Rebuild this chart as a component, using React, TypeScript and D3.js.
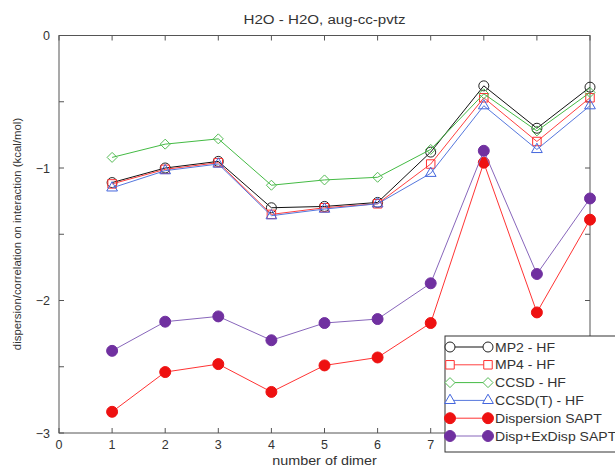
import React from "react";
import * as d3 from "d3";

const dimers = [1, 2, 3, 4, 5, 6, 7, 8, 9, 10];
const mp2 = [-1.11, -1.0, -0.95, -1.3, -1.29, -1.26, -0.88, -0.38, -0.7, -0.39];
const mp4 = [-1.12, -1.01, -0.96, -1.35, -1.3, -1.27, -0.97, -0.47, -0.8, -0.47];
const ccsd = [-0.92, -0.82, -0.78, -1.13, -1.09, -1.07, -0.86, -0.44, -0.72, -0.43];
const ccsdt = [-1.15, -1.02, -0.97, -1.36, -1.31, -1.27, -1.04, -0.53, -0.86, -0.53];
const dispSapt = [-2.84, -2.54, -2.48, -2.69, -2.49, -2.43, -2.17, -0.96, -2.09, -1.39];
const exDispSapt = [-2.38, -2.16, -2.12, -2.3, -2.17, -2.14, -1.87, -0.87, -1.8, -1.23];

const xTicks = [0, 1, 2, 3, 4, 5, 6, 7, 8, 9, 10];
const xLabels = [0, 1, 2, 3, 4, 5, 6, 7];
const yTicks = [0, -0.5, -1, -1.5, -2, -2.5, -3];
const yLabels = [0, -1, -2, -3];

type Series = { name: string; values: number[]; line: string; marker: string; shape: string; filled: boolean };

const series: Series[] = [
  { name: "MP2 - HF", values: mp2, line: "#111111", marker: "#222222", shape: "circle", filled: false },
  { name: "MP4 - HF", values: mp4, line: "#ff4040", marker: "#ff3030", shape: "square", filled: false },
  { name: "CCSD - HF", values: ccsd, line: "#44bb44", marker: "#55bb55", shape: "diamond", filled: false },
  { name: "CCSD(T) - HF", values: ccsdt, line: "#5577dd", marker: "#4466dd", shape: "triangle", filled: false },
  { name: "Dispersion SAPT", values: dispSapt, line: "#ff3333", marker: "#ee1111", shape: "dot", filled: true },
  { name: "Disp+ExDisp SAPT", values: exDispSapt, line: "#8866bb", marker: "#7030a0", shape: "dot", filled: true },
];

function markerPath(shape: string): string {
  if (shape === "circle") return d3.symbol(d3.symbolCircle, Math.PI * 25)()!;
  if (shape === "dot") return d3.symbol(d3.symbolCircle, Math.PI * 30)()!;
  if (shape === "square") return d3.symbol(d3.symbolSquare, 72)()!;
  if (shape === "triangle") return d3.symbol(d3.symbolTriangle, 50)()!;
  const r = 5;
  return `M0,${-r}L${r},0L0,${r}L${-r},0Z`;
}

const fmt = d3.format("d");

export default function App() {
  const W = 615, H = 471;
  const x = d3.scaleLinear().domain([0, 10]).range([59, 590]);
  const y = d3.scaleLinear().domain([0, -3]).range([35.5, 433]);
  const font = "Liberation Sans, Arial, Helvetica, sans-serif";
  const axisColor = "#555";
  const textColor = "#333";
  const lineGen = (vals: number[]) =>
    d3.line<number>().x((_, i) => x(dimers[i])).y((v) => y(v))(vals)!;

  const legendX = 445, legendY = 336, rowH = 17.8;

  return (
    <svg width={W} height={H} style={{ position: "absolute", left: 0, top: 0, background: "#fff" }} fontFamily={font}>
      <rect x={0} y={0} width={W} height={H} fill="#fff" />
      <g transform={`translate(${(x(0) + x(10)) / 2},24) scale(1.21,1)`}>
        <text textAnchor="middle" fontSize={12.5} fill={textColor}>H2O - H2O, aug-cc-pvtz</text>
      </g>

      {xTicks.map((t) => (
        <g key={"xt" + t}>
          <line x1={x(t)} x2={x(t)} y1={y(-3)} y2={y(-3) - 5} stroke={axisColor} />
          <line x1={x(t)} x2={x(t)} y1={y(0)} y2={y(0) + 5} stroke={axisColor} />
        </g>
      ))}
      {xLabels.map((t) => (
        <text key={"xl" + t} x={x(t)} y={y(-3) + 16} textAnchor="middle" fontSize={12.5} fill={textColor}>{fmt(t)}</text>
      ))}
      {yTicks.map((t) => (
        <g key={"yt" + t}>
          <line x1={x(0)} x2={x(0) + 5} y1={y(t)} y2={y(t)} stroke={axisColor} />
          <line x1={x(10)} x2={x(10) - 5} y1={y(t)} y2={y(t)} stroke={axisColor} />
        </g>
      ))}
      {yLabels.map((t) => (
        <text key={"yl" + t} x={x(0) - 9} y={y(t) + 4.5} textAnchor="end" fontSize={12.5} fill={textColor}>{fmt(t)}</text>
      ))}
      <rect x={x(0)} y={y(0)} width={x(10) - x(0)} height={y(-3) - y(0)} fill="none" stroke={axisColor} />

      {series.map((s) => (
        <g key={s.name}>
          <path d={lineGen(s.values)} fill="none" stroke={s.line} strokeWidth={1} />
          {s.values.map((v, i) => (
            <path key={i} d={markerPath(s.shape)} transform={`translate(${x(dimers[i])},${y(v)})`}
              fill={s.filled ? s.marker : "none"} stroke={s.marker} strokeWidth={1} />
          ))}
        </g>
      ))}

      <rect x={legendX} y={legendY} width={200} height={116} fill="#fff" stroke="#333" />
      {series.map((s, i) => {
        const cy = legendY + 11 + i * rowH;
        return (
          <g key={"lg" + s.name}>
            <line x1={450} x2={488} y1={cy} y2={cy} stroke={s.line} />
            <path d={markerPath(s.shape)} transform={`translate(450,${cy})`} fill={s.filled ? s.marker : "#fff"} stroke={s.marker} />
            <path d={markerPath(s.shape)} transform={`translate(488,${cy})`} fill={s.filled ? s.marker : "#fff"} stroke={s.marker} />
            <g transform={`translate(495,${cy + 4.5}) scale(1.17,1)`}>
              <text fontSize={12} fill={textColor}>{s.name}</text>
            </g>
          </g>
        );
      })}

      <g transform={`translate(${(x(0) + x(10)) / 2},465) scale(1.15,1)`}>
        <text textAnchor="middle" fontSize={12.5} fill={textColor}>number of dimer</text>
      </g>
      <text transform={`translate(21,234) rotate(-90)`} textAnchor="middle" fontSize={11.4} fill={textColor}>
        dispersion/correlation on interaction (kcal/mol)
      </text>
    </svg>
  );
}
